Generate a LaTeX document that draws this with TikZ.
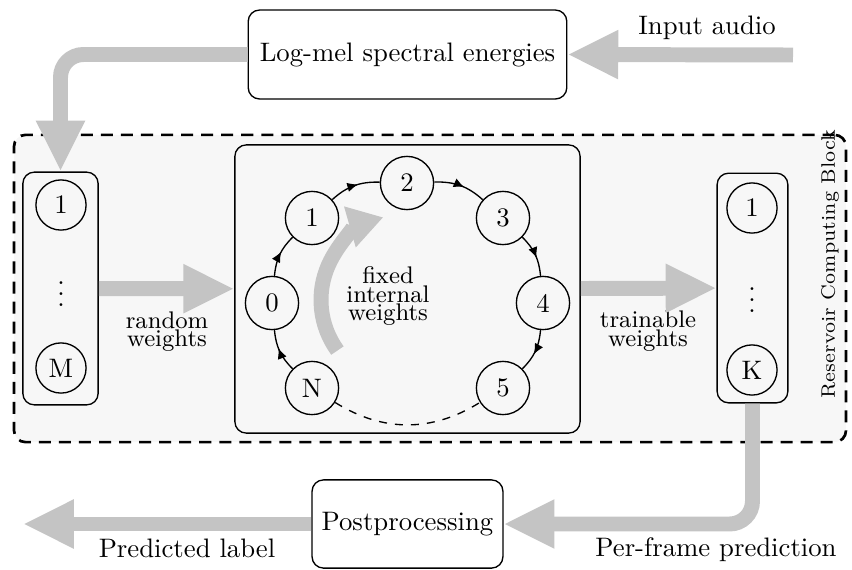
\documentclass[tikz,border=0pt]{standalone}
\usepackage{amsmath,amssymb}
\usepackage{tikz}
\usetikzlibrary{shapes,arrows.meta,positioning,calc,decorations.markings}
\definecolor{flowGray}{RGB}{196,196,196}
\definecolor{blockGray}{RGB}{247,247,247}

\begin{document}
\begin{tikzpicture}[x=1.315mm, y=1.315mm,
    every node/.style={inner sep=2pt},
    box/.style={draw, rounded corners=1.5mm, line width=0.5pt},
    unit/.style={draw, circle, minimum size=6.6mm, inner sep=0pt, line width=0.5pt},
    runit/.style={unit, minimum size=7mm},
    dots/.style={inner sep=0pt},
    flow/.style={draw=flowGray, line width=5.6pt, -{Triangle[length=19pt, width=17pt]}},
    ring/.style={line width=0.5pt, postaction={decorate},
      decoration={markings, mark=at position 0.58 with {\arrow{Latex[length=4pt, width=3.5pt]}}}},
    wlabel/.style={font=\small, align=center, inner sep=0pt}
  ]
    \useasboundingbox (0,0) rectangle (85.2,-56.9);
    % Reservoir computing block
    \node[draw, fill=blockGray, rounded corners=1.5mm, line width=1pt,
      dash pattern=on 4.5pt off 3pt, minimum width=109.4mm, minimum height=40.4mm]
      (rcb) at (43.0,-28.85) {};
    \node[rotate=90, font=\fontsize{7.3}{9}\selectfont, inner sep=0pt] (rcbname) at (83.0,-26.4) {Reservoir Computing Block};
    % Pre- and postprocessing
    \node[box, minimum width=41.9mm, minimum height=11.7mm] (logmel) at (40.75,-5.45) {Log-mel spectral energies};
    \node[box, minimum width=25.1mm, minimum height=11.6mm] (post) at (40.75,-52.4) {Postprocessing};
    \node (audio) at (70.7,-2.8) {Input audio};
    \node (predicted) at (18.7,-54.8) {Predicted label};
    \node (perframe) at (71.6,-55.0) {Per-frame prediction};
    \coordinate (audioin) at (79.3,-5.5);
    \coordinate (labelout) at (2.3,-52.4);
    % Input layer
    \node[box, minimum width=9.9mm, minimum height=30.6mm] (inbox) at (6.05,-28.85) {};
    \node[unit] (in1) at (6.1,-20.5) {1};
    \node[dots] (indots) at (6.1,-28.6) {$\vdots$};
    \node[unit] (inM) at (6.1,-36.8) {M};
    % Reservoir
    \node[box, minimum width=45.4mm, minimum height=37.9mm] (res) at (40.75,-28.9) {};
    \node[runit] (r0) at (27.2,-30.3) {0};
    \node[runit] (r1) at (31.2,-21.8) {1};
    \node[runit] (r2) at (40.7,-18.3) {2};
    \node[runit] (r3) at (50.3,-21.8) {3};
    \node[runit] (r4) at (54.3,-30.3) {4};
    \node[runit] (r5) at (50.3,-38.8) {5};
    \node[runit] (rN) at (31.2,-38.8) {N};
    \node[wlabel] (fixedw) at (38.8,-29.6) {fixed\\[-4pt]internal\\[-4pt]weights};
    % Output layer
    \node[box, minimum width=9.3mm, minimum height=30.2mm] (outbox) at (75.25,-28.8) {};
    \node[unit] (out1) at (75.2,-20.8) {1};
    \node[dots] (outdots) at (75.2,-29.2) {$\vdots$};
    \node[unit] (outK) at (75.2,-37.0) {K};
    % Weight labels
    \node[wlabel] (randw) at (16.7,-33.15) {random\\[-4pt]weights};
    \node[wlabel] (trainw) at (64.8,-33.1) {trainable\\[-4pt]weights};
    % Ring connections
    \draw[ring] (rN) to[bend left=20] (r0);
    \draw[ring] (r0) to[bend left=20] (r1);
    \draw[ring] (r1) to[bend left=22] (r2);
    \draw[ring] (r2) to[bend left=22] (r3);
    \draw[ring] (r3) to[bend left=20] (r4);
    \draw[ring] (r4) to[bend left=20] (r5);
    \draw[dashed, line width=0.5pt] (rN) to[bend right=32] (r5);
    \draw[flow, -{Triangle[length=13pt, width=15pt]}]
      ([shift={(216:8.6)}]40.7,-30.0) arc[start angle=216, end angle=106, radius=8.6];
    % Data flow
    \draw[flow] (audioin) -- (logmel.east);
    \draw[flow, rounded corners=3mm] (logmel.west) -| (inbox.north);
    \draw[flow] (inbox) -- (res);
    \draw[flow] (res) -- (outbox);
    \draw[flow, rounded corners=3mm] (outbox.south) |- (post.east);
    \draw[flow] (post.west) -- (labelout);
\end{tikzpicture}
\end{document}
